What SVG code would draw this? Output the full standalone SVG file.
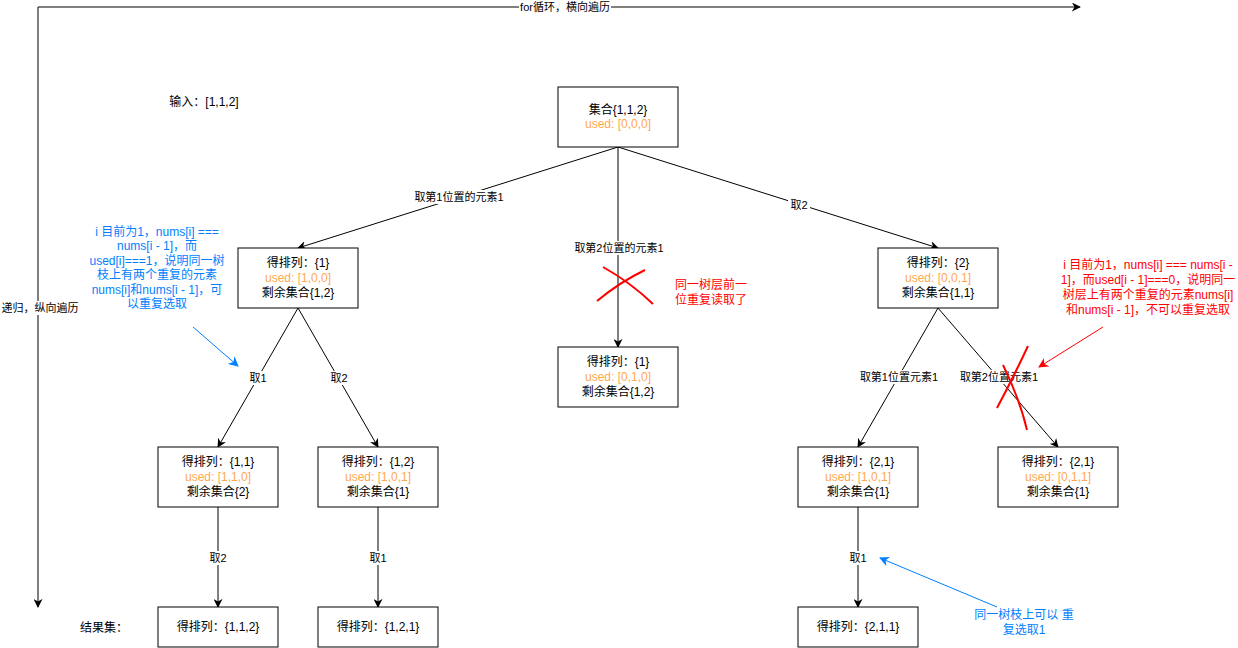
<svg xmlns="http://www.w3.org/2000/svg" width="1238" height="648" viewBox="0 0 1238 648">
<defs>
<style>
text{font-family:"Liberation Sans","Noto Sans CJK SC",sans-serif;font-size:12px;fill:#000;text-anchor:middle;dominant-baseline:central}
.lbl{font-size:11px}
.used{fill:#FFA84F}
.blue{fill:#007FFF}
.red{fill:#FF0000}
.box{fill:#fff;stroke:#000;stroke-width:1}
.edge{fill:none;stroke:#000;stroke-width:1}
.bg{fill:#fff}
.x{fill:none;stroke:#FF0000;stroke-width:2}
</style>
<marker id="ah" viewBox="0 0 10 10" refX="9" refY="5" markerWidth="9" markerHeight="9" orient="auto" markerUnits="userSpaceOnUse"><path d="M0,0 L10,5 L0,10 L3,5 Z" fill="#000"/></marker>
<marker id="ahb" viewBox="0 0 10 10" refX="9" refY="5" markerWidth="10" markerHeight="10" orient="auto" markerUnits="userSpaceOnUse"><path d="M0,0 L10,5 L0,10 L3,5 Z" fill="#007FFF"/></marker>
<marker id="ahr" viewBox="0 0 10 10" refX="9" refY="5" markerWidth="10" markerHeight="10" orient="auto" markerUnits="userSpaceOnUse"><path d="M0,0 L10,5 L0,10 L3,5 Z" fill="#FF0000"/></marker>
</defs>
<rect width="1238" height="648" fill="#fff"/>

<g id="connectors">
<path class="edge" d="M38,7 L1080,7" marker-end="url(#ah)"/>
<path class="edge" d="M38,7 L38,607" marker-end="url(#ah)"/>
<rect class="bg" x="519" y="1" width="92" height="12"/>
<text class="lbl" x="565" y="7">for循环，横向遍历</text>
<rect class="bg" x="2" y="301" width="76" height="14"/>
<text class="lbl" x="40" y="308">递归，纵向遍历</text>

<path class="edge" d="M618,147 L298,248" marker-end="url(#ah)"/>
<rect class="bg" x="414" y="190" width="90" height="14"/>
<text class="lbl" x="459" y="197">取第1位置的元素1</text>
<path class="edge" d="M618,147 L618,347" marker-end="url(#ah)"/>
<rect class="bg" x="575" y="241" width="88" height="14"/>
<text class="lbl" x="619" y="248">取第2位置的元素1</text>
<path class="edge" d="M618,147 L938,248" marker-end="url(#ah)"/>
<rect class="bg" x="788" y="198" width="22" height="14"/>
<text class="lbl" x="799" y="205">取2</text>

<path class="edge" d="M298,308 L218,447" marker-end="url(#ah)"/>
<rect class="bg" x="247" y="371" width="22" height="14"/>
<text class="lbl" x="258" y="378">取1</text>
<path class="edge" d="M298,308 L378,447" marker-end="url(#ah)"/>
<rect class="bg" x="328" y="371" width="22" height="14"/>
<text class="lbl" x="339" y="378">取2</text>

<path class="edge" d="M938,308 L858,447" marker-end="url(#ah)"/>
<rect class="bg" x="859" y="370" width="80" height="14"/>
<text class="lbl" x="899" y="377">取第1位置元素1</text>
<path class="edge" d="M938,308 L1058,447" marker-end="url(#ah)"/>
<rect class="bg" x="959" y="370" width="80" height="14"/>
<text class="lbl" x="999" y="377">取第2位置元素1</text>

<path class="edge" d="M218,507 L218,607" marker-end="url(#ah)"/>
<rect class="bg" x="207" y="551" width="22" height="14"/>
<text class="lbl" x="218" y="558">取2</text>
<path class="edge" d="M378,507 L378,607" marker-end="url(#ah)"/>
<rect class="bg" x="367" y="551" width="22" height="14"/>
<text class="lbl" x="378" y="558">取1</text>
<path class="edge" d="M858,507 L858,607" marker-end="url(#ah)"/>
<rect class="bg" x="847" y="551" width="22" height="14"/>
<text class="lbl" x="858" y="558">取1</text>

<path d="M193,327 L238,366" fill="none" stroke="#007FFF" stroke-width="1" marker-end="url(#ahb)"/>
<path d="M997,607 L880,558" fill="none" stroke="#007FFF" stroke-width="1" marker-end="url(#ahb)"/>
<path d="M1103,327 L1039,367" fill="none" stroke="#FF0000" stroke-width="1" marker-end="url(#ahr)"/>
</g>

<g id="cross-middle">
<path class="x" d="M603,267 Q630,282 653,304"/>
<path class="x" d="M597,301 Q620,282 645,270"/>
</g>
<g id="cross-right">
<path class="x" d="M1003,365 Q1020,400 1027,430"/>
<path class="x" d="M1028,346 Q1012,380 997,408"/>
</g>

<g id="input"><text x="204" y="102">输入：[1,1,2]</text></g>
<g id="result-label"><text x="104" y="628">结果集：</text></g>

<g id="root">
<rect class="box" x="558" y="87" width="120" height="60"/>
<text x="618" y="110">集合{1,1,2}</text>
<text class="used" x="618" y="124">used: [0,0,0]</text>
</g>

<g id="n1">
<rect class="box" x="238" y="248" width="120" height="60"/>
<text x="298" y="263">得排列：{1}</text>
<text class="used" x="298" y="278">used: [1,0,0]</text>
<text x="298" y="293">剩余集合{1,2}</text>
</g>
<g id="n2">
<rect class="box" x="558" y="347" width="120" height="60"/>
<text x="618" y="362">得排列：{1}</text>
<text class="used" x="618" y="377">used: [0,1,0]</text>
<text x="618" y="392">剩余集合{1,2}</text>
</g>
<g id="n3">
<rect class="box" x="878" y="248" width="120" height="60"/>
<text x="938" y="263">得排列：{2}</text>
<text class="used" x="938" y="278">used: [0,0,1]</text>
<text x="938" y="293">剩余集合{1,1}</text>
</g>

<g id="n11">
<rect class="box" x="158" y="447" width="120" height="60"/>
<text x="218" y="462">得排列：{1,1}</text>
<text class="used" x="218" y="477">used: [1,1,0]</text>
<text x="218" y="492">剩余集合{2}</text>
</g>
<g id="n12">
<rect class="box" x="318" y="447" width="120" height="60"/>
<text x="378" y="462">得排列：{1,2}</text>
<text class="used" x="378" y="477">used: [1,0,1]</text>
<text x="378" y="492">剩余集合{1}</text>
</g>
<g id="n31">
<rect class="box" x="798" y="447" width="120" height="60"/>
<text x="858" y="462">得排列：{2,1}</text>
<text class="used" x="858" y="477">used: [1,0,1]</text>
<text x="858" y="492">剩余集合{1}</text>
</g>
<g id="n32">
<rect class="box" x="998" y="447" width="120" height="60"/>
<text x="1058" y="462">得排列：{2,1}</text>
<text class="used" x="1058" y="477">used: [0,1,1]</text>
<text x="1058" y="492">剩余集合{1}</text>
</g>

<g id="r1">
<rect class="box" x="158" y="607" width="120" height="40"/>
<text x="218" y="627">得排列：{1,1,2}</text>
</g>
<g id="r2">
<rect class="box" x="318" y="607" width="120" height="40"/>
<text x="378" y="627">得排列：{1,2,1}</text>
</g>
<g id="r3">
<rect class="box" x="798" y="607" width="120" height="40"/>
<text x="858" y="627">得排列：{2,1,1}</text>
</g>

<g id="note-left">
<text class="blue" x="157" y="232">i 目前为1，nums[i] ===</text>
<text class="blue" x="157" y="246">nums[i - 1]，而</text>
<text class="blue" x="157" y="261">used[i]===1，说明同一树</text>
<text class="blue" x="157" y="275">枝上有两个重复的元素</text>
<text class="blue" x="157" y="290">nums[i]和nums[i - 1]，可</text>
<text class="blue" x="157" y="304">以重复选取</text>
</g>
<g id="note-middle">
<text class="red" x="711" y="285">同一树层前一</text>
<text class="red" x="711" y="300">位重复读取了</text>
</g>
<g id="note-right">
<text class="red" x="1148" y="265">i 目前为1，nums[i] === nums[i -</text>
<text class="red" x="1148" y="280">1]，而used[i - 1]===0，说明同一</text>
<text class="red" x="1148" y="295">树层上有两个重复的元素nums[i]</text>
<text class="red" x="1148" y="310">和nums[i - 1]，不可以重复选取</text>
</g>
<g id="note-bottom">
<text class="blue" x="1024" y="615">同一树枝上可以 重</text>
<text class="blue" x="1024" y="630">复选取1</text>
</g>
</svg>
